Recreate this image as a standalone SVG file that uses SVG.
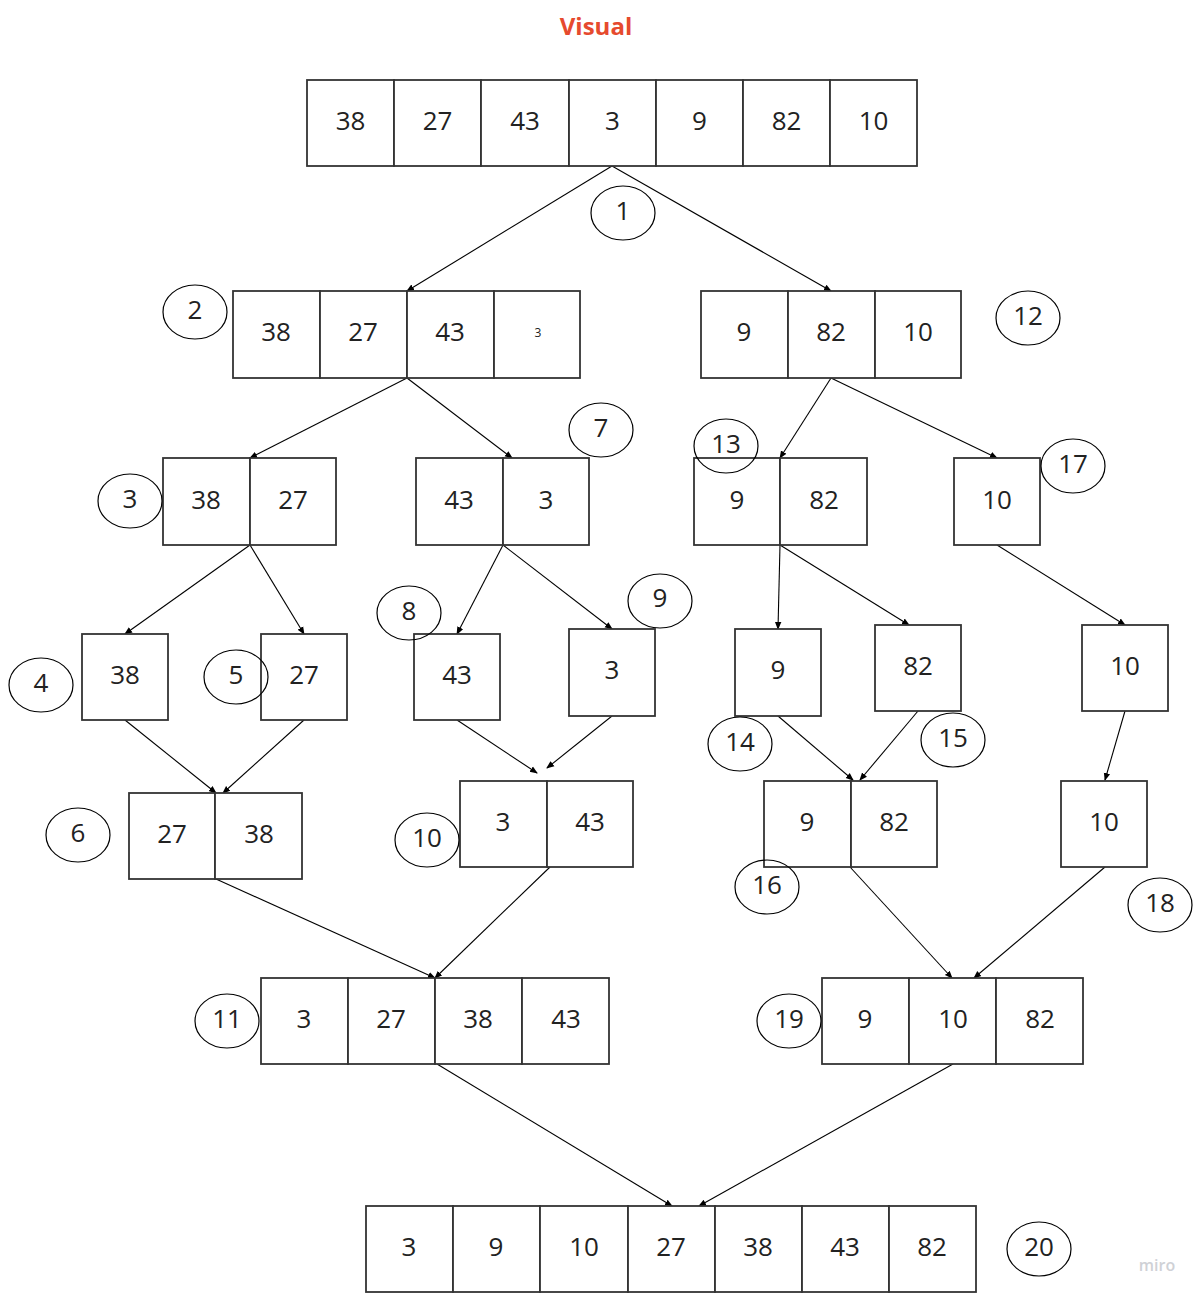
<svg xmlns="http://www.w3.org/2000/svg" width="1203" height="1298" viewBox="0 0 1203 1298">
<defs>
<marker id="ah" markerWidth="8" markerHeight="8" refX="7" refY="4" orient="auto" markerUnits="userSpaceOnUse">
<path d="M0,0.8 L8,4 L0,7.2 Z" fill="#000"/>
</marker>
</defs>
<style>
.b{fill:#fff;stroke:#333;stroke-width:1.8}
.t{font-family:"Open Sans","Noto Sans",sans-serif;font-size:26px;fill:#222;text-anchor:middle;dominant-baseline:central;transform:translateY(-1.5px)}
.c{fill:none;stroke:#000;stroke-width:1.2}
.e line{stroke:#000;stroke-width:1.1;marker-end:url(#ah)}
</style>
<rect width="1203" height="1298" fill="#fff"/>
<text x="596" y="25" font-family="'Open Sans','Noto Sans',sans-serif" font-size="24" font-weight="bold" fill="#e64a2e" text-anchor="middle" dominant-baseline="central">Visual</text>
<text x="1157" y="1265" font-family="'Open Sans','Noto Sans',sans-serif" font-size="16" font-weight="600" fill="#cfd1d6" text-anchor="middle" dominant-baseline="central">miro</text>

<g id="connectors" class="e">
<line x1="612" y1="166" x2="407" y2="291"/>
<line x1="612" y1="166" x2="831" y2="291"/>
<line x1="407" y1="378" x2="250" y2="458"/>
<line x1="407" y1="378" x2="512" y2="458"/>
<line x1="831" y1="378" x2="780" y2="458"/>
<line x1="831" y1="378" x2="997" y2="458"/>
<line x1="250" y1="545" x2="125" y2="634"/>
<line x1="250" y1="545" x2="304" y2="634"/>
<line x1="503" y1="545" x2="457" y2="634"/>
<line x1="503" y1="545" x2="612" y2="629"/>
<line x1="780" y1="545" x2="778" y2="629"/>
<line x1="780" y1="545" x2="909" y2="625"/>
<line x1="997" y1="545" x2="1125" y2="625"/>
<line x1="125" y1="720" x2="216" y2="793"/>
<line x1="304" y1="720" x2="223" y2="793"/>
<line x1="457" y1="720" x2="537" y2="773"/>
<line x1="612" y1="716" x2="547" y2="768"/>
<line x1="778" y1="716" x2="853" y2="780"/>
<line x1="918" y1="711" x2="860" y2="780"/>
<line x1="1125" y1="711" x2="1105" y2="780"/>
<line x1="216" y1="879" x2="435" y2="978"/>
<line x1="550" y1="867" x2="435" y2="978"/>
<line x1="850" y1="867" x2="952" y2="978"/>
<line x1="1105" y1="867" x2="974" y2="978"/>
<line x1="437" y1="1064" x2="672" y2="1206"/>
<line x1="953" y1="1064" x2="699" y2="1206"/>
</g>

<g id="n-row0">
<rect class="b" x="307" y="80" width="87" height="86"/><text class="t" x="350.5" y="121">38</text>
<rect class="b" x="394" y="80" width="87" height="86"/><text class="t" x="437.5" y="121">27</text>
<rect class="b" x="481" y="80" width="88" height="86"/><text class="t" x="525" y="121">43</text>
<rect class="b" x="569" y="80" width="87" height="86"/><text class="t" x="612.5" y="121">3</text>
<rect class="b" x="656" y="80" width="87" height="86"/><text class="t" x="699.5" y="121">9</text>
<rect class="b" x="743" y="80" width="87" height="86"/><text class="t" x="786.5" y="121">82</text>
<rect class="b" x="830" y="80" width="87" height="86"/><text class="t" x="873.5" y="121">10</text>
</g>

<g id="n-row1-left">
<rect class="b" x="233" y="291" width="87" height="87"/><text class="t" x="276" y="332">38</text>
<rect class="b" x="320" y="291" width="87" height="87"/><text class="t" x="363" y="332">27</text>
<rect class="b" x="407" y="291" width="87" height="87"/><text class="t" x="450" y="332">43</text>
<rect class="b" x="494" y="291" width="86" height="87"/><text class="t" x="538" y="334" style="font-size:12px">3</text>
</g>
<g id="n-row1-right">
<rect class="b" x="701" y="291" width="87" height="87"/><text class="t" x="744" y="332">9</text>
<rect class="b" x="788" y="291" width="87" height="87"/><text class="t" x="831" y="332">82</text>
<rect class="b" x="875" y="291" width="86" height="87"/><text class="t" x="918" y="332">10</text>
</g>

<g id="n-38-27">
<rect class="b" x="163" y="458" width="87" height="87"/><text class="t" x="206" y="500">38</text>
<rect class="b" x="250" y="458" width="86" height="87"/><text class="t" x="293" y="500">27</text>
</g>
<g id="n-43-3">
<rect class="b" x="416" y="458" width="87" height="87"/><text class="t" x="459" y="500">43</text>
<rect class="b" x="503" y="458" width="86" height="87"/><text class="t" x="546" y="500">3</text>
</g>
<g id="n-9-82">
<rect class="b" x="694" y="458" width="86" height="87"/><text class="t" x="737" y="500">9</text>
<rect class="b" x="780" y="458" width="87" height="87"/><text class="t" x="824" y="500">82</text>
</g>
<g id="n-10a">
<rect class="b" x="954" y="458" width="86" height="87"/><text class="t" x="997" y="500">10</text>
</g>

<g id="n-38"><rect class="b" x="82" y="634" width="86" height="86"/><text class="t" x="125" y="675">38</text></g>
<g id="n-27"><rect class="b" x="261" y="634" width="86" height="86"/><text class="t" x="304" y="675">27</text></g>
<g id="n-43"><rect class="b" x="414" y="634" width="86" height="86"/><text class="t" x="457" y="675">43</text></g>
<g id="n-3"><rect class="b" x="569" y="629" width="86" height="87"/><text class="t" x="612" y="670">3</text></g>
<g id="n-9"><rect class="b" x="735" y="629" width="86" height="87"/><text class="t" x="778" y="670">9</text></g>
<g id="n-82"><rect class="b" x="875" y="625" width="86" height="86"/><text class="t" x="918" y="666">82</text></g>
<g id="n-10b"><rect class="b" x="1082" y="625" width="86" height="86"/><text class="t" x="1125" y="666">10</text></g>

<g id="n-27-38">
<rect class="b" x="129" y="793" width="86" height="86"/><text class="t" x="172" y="834">27</text>
<rect class="b" x="215" y="793" width="87" height="86"/><text class="t" x="259" y="834">38</text>
</g>
<g id="n-3-43">
<rect class="b" x="460" y="781" width="87" height="86"/><text class="t" x="503" y="822">3</text>
<rect class="b" x="547" y="781" width="86" height="86"/><text class="t" x="590" y="822">43</text>
</g>
<g id="n-9-82b">
<rect class="b" x="764" y="781" width="87" height="86"/><text class="t" x="807" y="822">9</text>
<rect class="b" x="851" y="781" width="86" height="86"/><text class="t" x="894" y="822">82</text>
</g>
<g id="n-10c"><rect class="b" x="1061" y="781" width="86" height="86"/><text class="t" x="1104" y="822">10</text></g>

<g id="n-row5-left">
<rect class="b" x="261" y="978" width="87" height="86"/><text class="t" x="304" y="1019">3</text>
<rect class="b" x="348" y="978" width="87" height="86"/><text class="t" x="391" y="1019">27</text>
<rect class="b" x="435" y="978" width="87" height="86"/><text class="t" x="478" y="1019">38</text>
<rect class="b" x="522" y="978" width="87" height="86"/><text class="t" x="566" y="1019">43</text>
</g>
<g id="n-row5-right">
<rect class="b" x="822" y="978" width="87" height="86"/><text class="t" x="865" y="1019">9</text>
<rect class="b" x="909" y="978" width="87" height="86"/><text class="t" x="953" y="1019">10</text>
<rect class="b" x="996" y="978" width="87" height="86"/><text class="t" x="1040" y="1019">82</text>
</g>

<g id="n-row6">
<rect class="b" x="366" y="1206" width="87" height="86"/><text class="t" x="409" y="1247">3</text>
<rect class="b" x="453" y="1206" width="87" height="86"/><text class="t" x="496" y="1247">9</text>
<rect class="b" x="540" y="1206" width="88" height="86"/><text class="t" x="584" y="1247">10</text>
<rect class="b" x="628" y="1206" width="87" height="86"/><text class="t" x="671" y="1247">27</text>
<rect class="b" x="715" y="1206" width="87" height="86"/><text class="t" x="758" y="1247">38</text>
<rect class="b" x="802" y="1206" width="87" height="86"/><text class="t" x="845" y="1247">43</text>
<rect class="b" x="889" y="1206" width="87" height="86"/><text class="t" x="932" y="1247">82</text>
</g>

<g id="steps">
<g id="s1"><ellipse class="c" cx="623" cy="213" rx="32" ry="27"/><text class="t" x="623" y="211">1</text></g>
<g id="s2"><ellipse class="c" cx="195" cy="312" rx="32" ry="27"/><text class="t" x="195" y="310">2</text></g>
<g id="s3"><ellipse class="c" cx="130" cy="501" rx="32" ry="27"/><text class="t" x="130" y="499">3</text></g>
<g id="s4"><ellipse class="c" cx="41" cy="685" rx="32" ry="27"/><text class="t" x="41" y="683">4</text></g>
<g id="s5"><ellipse class="c" cx="236" cy="677" rx="32" ry="27"/><text class="t" x="236" y="675">5</text></g>
<g id="s6"><ellipse class="c" cx="78" cy="835" rx="32" ry="27"/><text class="t" x="78" y="833">6</text></g>
<g id="s7"><ellipse class="c" cx="601" cy="430" rx="32" ry="27"/><text class="t" x="601" y="428">7</text></g>
<g id="s8"><ellipse class="c" cx="409" cy="613" rx="32" ry="27"/><text class="t" x="409" y="611">8</text></g>
<g id="s9"><ellipse class="c" cx="660" cy="601" rx="32" ry="27"/><text class="t" x="660" y="598">9</text></g>
<g id="s10"><ellipse class="c" cx="427" cy="840" rx="32" ry="27"/><text class="t" x="427" y="838">10</text></g>
<g id="s11"><ellipse class="c" cx="227" cy="1021" rx="32" ry="27"/><text class="t" x="227" y="1019">11</text></g>
<g id="s12"><ellipse class="c" cx="1028" cy="318" rx="32" ry="27"/><text class="t" x="1028" y="316">12</text></g>
<g id="s13"><ellipse class="c" cx="726" cy="446" rx="32" ry="27"/><text class="t" x="726" y="444">13</text></g>
<g id="s14"><ellipse class="c" cx="740" cy="744" rx="32" ry="27"/><text class="t" x="740" y="742">14</text></g>
<g id="s15"><ellipse class="c" cx="953" cy="740" rx="32" ry="27"/><text class="t" x="953" y="738">15</text></g>
<g id="s16"><ellipse class="c" cx="767" cy="887" rx="32" ry="27"/><text class="t" x="767" y="885">16</text></g>
<g id="s17"><ellipse class="c" cx="1073" cy="466" rx="32" ry="27"/><text class="t" x="1073" y="464">17</text></g>
<g id="s18"><ellipse class="c" cx="1160" cy="905" rx="32" ry="27"/><text class="t" x="1160" y="903">18</text></g>
<g id="s19"><ellipse class="c" cx="789" cy="1021" rx="32" ry="27"/><text class="t" x="789" y="1019">19</text></g>
<g id="s20"><ellipse class="c" cx="1039" cy="1249" rx="32" ry="27"/><text class="t" x="1039" y="1247">20</text></g>
</g>
</svg>
